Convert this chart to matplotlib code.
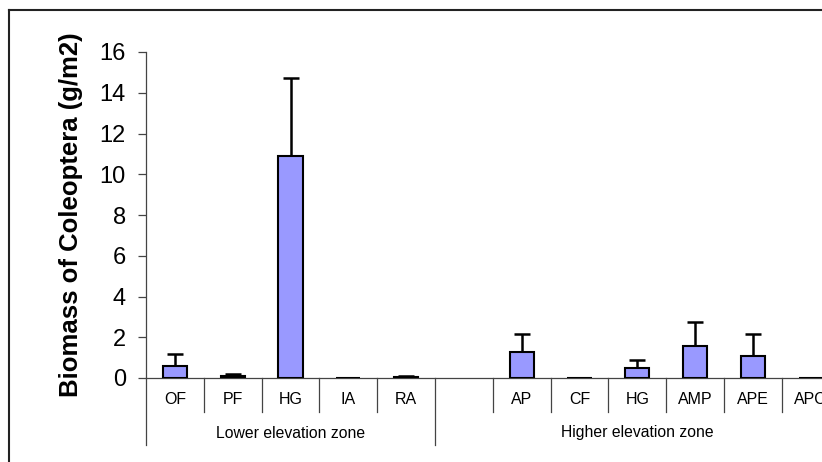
import matplotlib
matplotlib.use("Agg")
import matplotlib.pyplot as plt
from matplotlib.lines import Line2D
import numpy as np

plt.rcParams['font.family'] = ['Liberation Sans', 'DejaVu Sans']

# Dados (biomassa media e erro padrao, g/m2)
categories = ["OF", "PF", "HG", "IA", "RA", "", "AP", "CF", "HG", "AMP", "APE", "APC"]
biomass = [0.6, 0.1, 10.9, 0.01, 0.07, np.nan, 1.3, 0.01, 0.5, 1.55, 1.08, 0.01]
std_err = [0.6, 0.1, 3.8, 0.0, 0.02, np.nan, 0.87, 0.0, 0.38, 1.2, 1.08, 0.0]
groups = ["Lower elevation zone", "Higher elevation zone"]
group_sizes = [5, 7]

W, H = 822, 462
fig = plt.figure(figsize=(W / 100, H / 100), dpi=100)

# eixo: x de 146 a ~840 px, y de 52 a 378 px
left, right, top, bottom = 146, 839.6, 52, 378
ax = fig.add_axes([left / W, (H - bottom) / H, (right - left) / W, (bottom - top) / H])

x = np.arange(len(categories))
yerr = np.array([np.zeros(len(std_err)), std_err])
ax.bar(x, biomass, width=0.42, color="#9999FF", edgecolor="black", linewidth=1.5, zorder=3)
ax.errorbar(x, biomass, yerr=yerr, fmt="none", ecolor="black", elinewidth=1.8,
            capsize=5.5, capthick=1.8, zorder=2)

ax.set_xlim(-0.5, len(categories) - 0.5)
ax.set_ylim(0, 16)
ax.set_yticks(range(0, 17, 2))
ax.tick_params(axis="y", labelsize=17, length=6, width=0.9, color="#444444", pad=8.5)
ax.set_xticks([])
for s in ["top", "right"]:
    ax.spines[s].set_visible(False)
ax.spines["left"].set_color("#444444")
ax.spines["left"].set_linewidth(0.9)
ax.spines["bottom"].set_color("#444444")
ax.spines["bottom"].set_linewidth(0.9)
ax.spines["left"].set_bounds(0, 16)

ax.set_ylabel("Biomass of Coleoptera (g/m2)", fontsize=18.5, fontweight="bold", labelpad=12)

# linhas de separacao e rotulos das categorias
trans = ax.get_xaxis_transform()
short_y = -34 / (bottom - top)
long_y = -67 / (bottom - top)
group_edges = np.cumsum([0] + group_sizes) - 0.5
for b in np.arange(-0.5, len(categories)):
    y_end = long_y if b in group_edges else short_y
    ax.plot([b, b], [0, y_end], transform=trans, color="#444444", lw=0.9, clip_on=False)

for xi, lab in zip(x, categories):
    ax.text(xi, -22 / (bottom - top), lab, transform=trans, ha="center", va="center", fontsize=11.5)

for i, g in enumerate(groups):
    cx = (group_edges[i] + group_edges[i + 1]) / 2
    ax.text(cx, -55 / (bottom - top), g, transform=trans, ha="center", va="center", fontsize=11.3)

# moldura externa
fig.add_artist(Line2D([8.5 / W, 8.5 / W], [0, 1 - 10 / H], transform=fig.transFigure,
                      color="#222222", lw=1.5))
fig.add_artist(Line2D([8.5 / W, 1], [1 - 10 / H, 1 - 10 / H], transform=fig.transFigure,
                      color="#222222", lw=1.5))

fig.savefig("out.png", dpi=100)
